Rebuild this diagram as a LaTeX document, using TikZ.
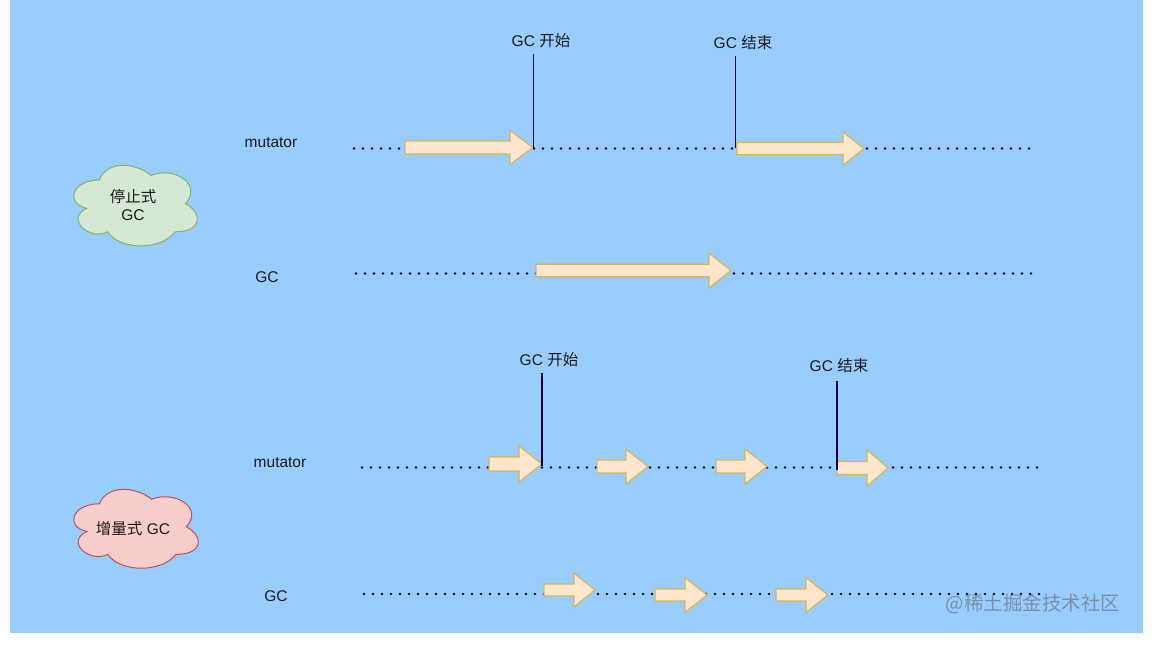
\documentclass[tikz,border=0pt]{standalone}
\usepackage{fontspec}
\setmainfont{Liberation Sans}
\newfontfamily\cjk{Noto Sans CJK SC}
\definecolor{bgblue}{HTML}{99CCFF}
\definecolor{arrfill}{HTML}{FFE6CC}
\definecolor{arrline}{HTML}{D6B656}
\definecolor{gfill}{HTML}{D5E8D4}
\definecolor{gline}{HTML}{82B366}
\definecolor{pfill}{HTML}{F8CECC}
\definecolor{pline}{HTML}{B85450}
\definecolor{txt}{HTML}{1A1A1A}
\definecolor{wm}{HTML}{7890A8}
\tikzset{
  lbl/.style={text=txt, font=\fontsize{15.5}{18}\selectfont, inner sep=0pt},
  dotline/.style={line width=2.6pt, line cap=round, dash pattern=on 0pt off 9pt, color=black!80!blue},
  marker/.style={line width=1.2pt, color=black!80!blue},
  arr/.style={fill=arrfill, draw=arrline, line width=1.2pt, line join=miter},
  cloudline/.style={line width=1pt},
  cloudtext/.style={align=center, inner sep=0pt, text=txt, font=\fontsize{15.5}{18}\selectfont},
}
% left, head start, tip, y centre, body half height, head half height
\newcommand{\blockarr}[6]{%
  \draw[arr] (#1,{#4-#5}) -- (#2,{#4-#5}) -- (#2,{#4-#6}) -- (#3,#4) -- (#2,{#4+#6}) -- (#2,{#4+#5}) -- (#1,{#4+#5}) -- cycle;}
% cloud: left, top, width, height, style
\newcommand{\cloudshape}[5]{%
  \begin{scope}[shift={(#1,#2)}, x=#3pt, y=-#4pt]
  \draw[cloudline,#5] (0.25,0.25)
    .. controls (0.05,0.25) and (0,0.5) .. (0.16,0.55)
    .. controls (0,0.66) and (0.18,0.9) .. (0.31,0.8)
    .. controls (0.4,1) and (0.7,1) .. (0.8,0.8)
    .. controls (1,0.8) and (1,0.6) .. (0.875,0.5)
    .. controls (1,0.3) and (0.8,0.1) .. (0.625,0.2)
    .. controls (0.5,0.05) and (0.3,0.05) .. (0.25,0.25) -- cycle;
  \end{scope}}
\begin{document}
\begin{tikzpicture}[x=1pt,y=-1pt]
\useasboundingbox (0,0) rectangle (1168,664);
\fill[white] (0,0) rectangle (1168,664);
\fill[bgblue] (10,0) rectangle (1143,633);

% clouds
\cloudshape{64.7}{156.6}{138}{94}{fill=gfill, draw=gline}
\node[cloudtext] (stop) at (133,205) {{\cjk 停止式}\\GC};
\cloudshape{64.7}{480.8}{139}{92}{fill=pfill, draw=pline}
\node[cloudtext] (inc) at (133,529) {{\cjk 增量式} GC};

% row labels
\node[lbl] (m1) at (271,143) {mutator};
\node[lbl] (g1) at (267,277) {GC};
\node[lbl] (m2) at (280,463) {mutator};
\node[lbl] (g2) at (276,596) {GC};

% timeline endpoints
\coordinate (m1a) at (354,148.5);  \coordinate (m1b) at (1030,148.5);
\coordinate (g1a) at (356,273.5);  \coordinate (g1b) at (1032,273.5);
\coordinate (m2a) at (362,467.5);  \coordinate (m2b) at (1038,467.5);
\coordinate (g2a) at (364,594);    \coordinate (g2b) at (1040,594);
\draw[dotline] (m1a) -- (m1b);
\draw[dotline] (g1a) -- (g1b);
\draw[dotline] (m2a) -- (m2b);
\draw[dotline] (g2a) -- (g2b);

% block arrows
\blockarr{405}{510}{533}{147.5}{6.5}{17}
\blockarr{737}{843}{864}{148.5}{6}{16.5}
\blockarr{536}{709}{731}{270.5}{6.2}{17.5}
\blockarr{489}{519}{542}{464}{7}{18}
\blockarr{597}{626}{648}{466.5}{6.5}{17.5}
\blockarr{716}{745}{767}{466.5}{6.5}{17.5}
\blockarr{837}{867}{888}{468}{6.5}{18}
\blockarr{544}{574}{595}{590}{6}{17}
\blockarr{655}{685}{707}{595}{6}{17.5}
\blockarr{776}{806}{828}{595}{6}{17.5}

% GC start/end markers
\node[lbl] (s1) at (541,41) {GC {\cjk 开始}};
\node[lbl] (e1) at (743,43) {GC {\cjk 结束}};
\node[lbl] (s2) at (549,360) {GC {\cjk 开始}};
\node[lbl] (e2) at (839,366) {GC {\cjk 结束}};
\coordinate (s1t) at (533.5,54);  \coordinate (s1b) at (533.5,148);
\coordinate (e1t) at (735.5,56);  \coordinate (e1b) at (735.5,148);
\coordinate (s2t) at (542,373);   \coordinate (s2b) at (542,466);
\coordinate (e2t) at (837,381);   \coordinate (e2b) at (837,470);
\draw[marker] (s1t) -- (s1b);
\draw[marker] (e1t) -- (e1b);
\draw[marker] (s2t) -- (s2b);
\draw[marker] (e2t) -- (e2b);

% watermark
\node[text=wm, font=\cjk\fontsize{19.5}{22}\selectfont, inner sep=0pt] (wmk) at (1033,604) {@稀土掘金技术社区};
\end{tikzpicture}
\end{document}
